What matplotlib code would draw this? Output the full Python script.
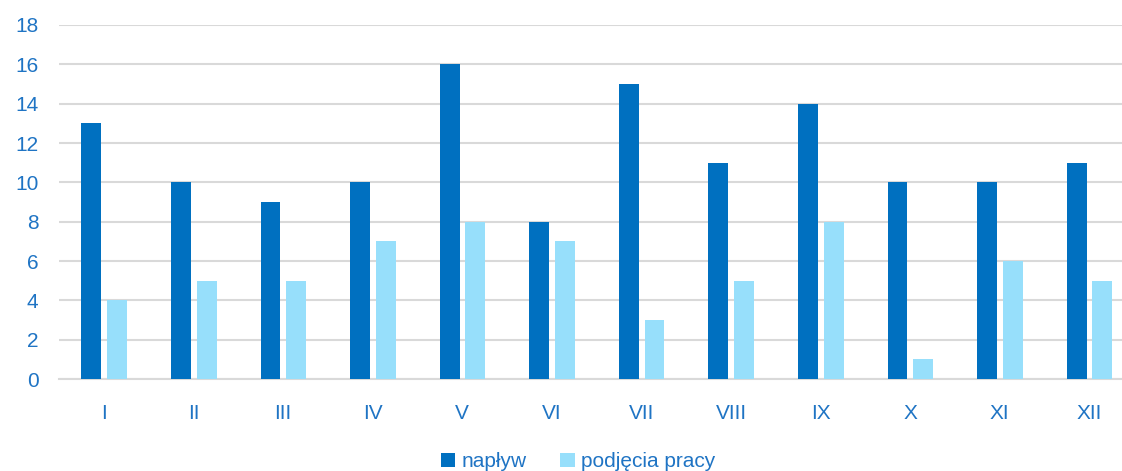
import matplotlib
matplotlib.use('Agg')
import matplotlib.pyplot as plt
import numpy as np

months = ['I', 'II', 'III', 'IV', 'V', 'VI', 'VII', 'VIII', 'IX', 'X', 'XI', 'XII']
naplyw = [13, 10, 9, 10, 16, 8, 15, 11, 14, 10, 10, 11]
podjecia = [4, 5, 5, 7, 8, 7, 3, 5, 8, 1, 6, 5]

dark = '#0070C0'
light = '#97DFFB'
text_col = '#1F74C4'

plt.rcParams['font.family'] = ['Liberation Sans', 'DejaVu Sans']

fig = plt.figure(figsize=(11.22, 4.71), dpi=100)
# right edge runs past the figure, as in the original
ax = fig.add_axes([0.0528, 0.195, 0.958, 0.752])

x = np.arange(len(months))
w = 0.222
ax.bar(x - 0.142, naplyw, w, color=dark, label='napływ', zorder=3)
ax.bar(x + 0.145, podjecia, w, color=light, label='podjęcia pracy', zorder=3)

ax.set_xlim(-0.5, len(months) - 0.5)
ax.set_ylim(0, 18)
ax.set_yticks(range(0, 19, 2))
ax.set_xticks(x)
ax.set_xticklabels(months)
ax.grid(axis='y', color='#D9D9D9', linewidth=1.5, zorder=0)
for s in ['top', 'right', 'left']:
    ax.spines[s].set_visible(False)
ax.spines['bottom'].set_color('#D9D9D9')
ax.spines['bottom'].set_linewidth(1.5)
ax.tick_params(axis='both', length=0, labelsize=15, colors=text_col)
ax.tick_params(axis='x', pad=18)
ax.tick_params(axis='y', pad=15)

leg = fig.legend(loc='lower center', ncol=2, frameon=False, fontsize=15,
                 bbox_to_anchor=(0.515, -0.04), handlelength=0.7, handleheight=0.7,
                 columnspacing=1.6, handletextpad=0.3)
for t in leg.get_texts():
    t.set_color(text_col)

fig.savefig('out.png', dpi=100)
